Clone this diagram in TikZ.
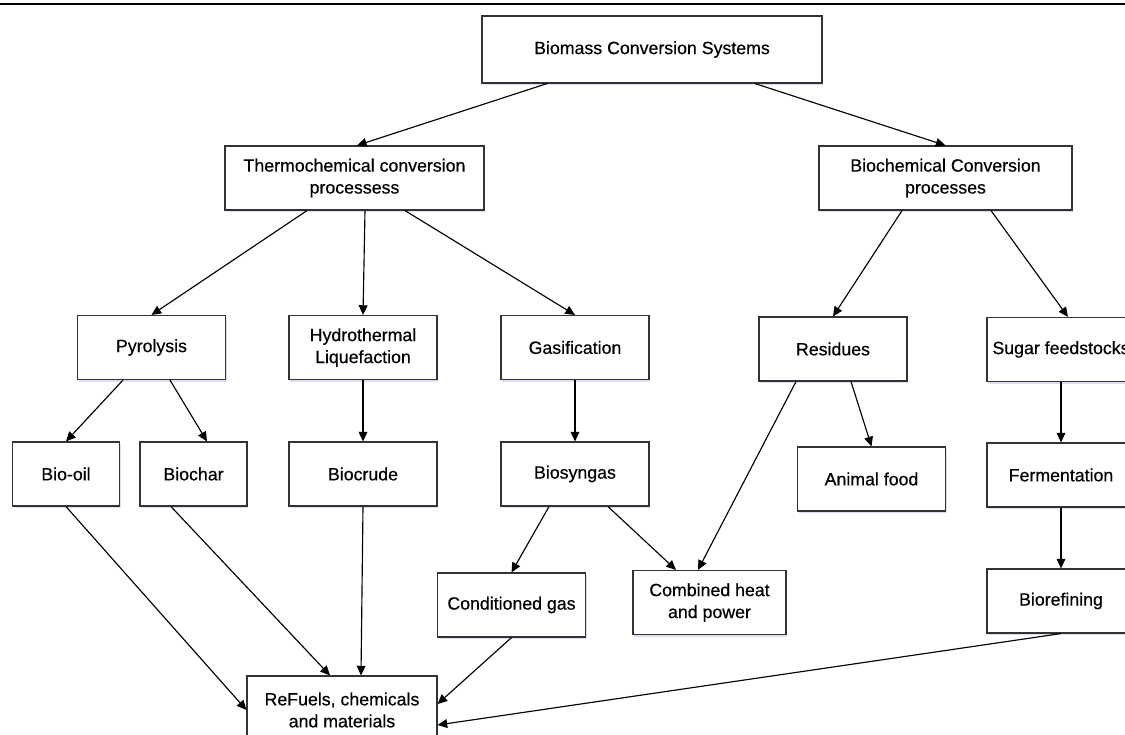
\documentclass[tikz,border=0pt]{standalone}
\usepackage{fontspec}
\setmainfont{Liberation Sans}
\newfontfamily\boxfont[FakeBold=0.45]{Liberation Sans}
\usepackage{tikz}
\usetikzlibrary{arrows.meta,positioning,shadows}
\tikzset{
    box/.style={
        draw=black!80,
        line width=0.65pt,
        fill=white,
        align=center,
        inner sep=2pt,
        minimum height=1.28cm,
        minimum width=2.96cm,
        font=\boxfont\fontsize{10.1}{12.5}\selectfont,
        drop shadow={shadow xshift=0.6pt, shadow yshift=-1.2pt,
            fill=blue!50!gray, opacity=0.18}
    },
    smallbox/.style={box, minimum width=2.14cm},
    topbox/.style={box, minimum width=6.8cm, minimum height=1.34cm},
    procbox/.style={box, minimum width=5.12cm},
    flow/.style={-{Triangle[length=5.5pt,width=5pt]}, line width=0.65pt}
}

\begin{document}
\begin{tikzpicture}[x=0.02cm, y=-0.02cm]
        \useasboundingbox (0,0) rectangle (1125,734);
        \clip (0,0) rectangle (1125,734);
        \draw[line width=0.8pt] (0,4) -- (1125,4);

        % levels 1 and 2
        \node[topbox] (bcs) at (652,49.5) {Biomass Conversion Systems};
        \node[procbox, minimum width=5.18cm] (tcp) at (354.5,178) {Thermochemical conversion\\processess};
        \node[procbox, minimum width=5.06cm] (bcp) at (945.5,178) {Biochemical Conversion\\processes};

        % level 3
        \node[box] (pyr) at (151.5,347.5) {Pyrolysis};
        \node[box] (htl) at (363,347.5) {Hydrothermal\\Liquefaction};
        \node[box] (gas) at (575,347.5) {Gasification};
        \node[box] (res) at (833,349) {Residues};
        \node[box] (sug) at (1061,349.5) {Sugar feedstocks};

        % level 4
        \node[smallbox] (oil) at (66,474) {Bio-oil};
        \node[smallbox] (chr) at (193.5,474) {Biochar};
        \node[box] (crd) at (363,474) {Biocrude};
        \node[box] (syn) at (575,474) {Biosyngas};
        \node[box] (afd) at (871.5,479) {Animal food};
        \node[box] (fer) at (1061,475) {Fermentation};

        % level 5
        \node[box] (cgs) at (511.5,605) {Conditioned gas};
        \node[box, minimum width=3.06cm] (chp) at (709.5,602.5) {Combined heat\\and power};
        \node[box] (brf) at (1061,601) {Biorefining};
        \node[box, minimum width=3.8cm, minimum height=1.36cm] (rfl) at (342,710) {ReFuels, chemicals\\and materials};

        \draw[flow] ([xshift=-2.1cm]bcs.south) -- ([xshift=0.05cm]tcp.north);
        \draw[flow] ([xshift=2.06cm]bcs.south) -- (bcp.north);
        \draw[flow] ([xshift=-0.95cm]tcp.south) -- (pyr.north);
        \draw[flow] ([xshift=0.21cm]tcp.south) -- (htl.north);
        \draw[flow] ([xshift=1.01cm]tcp.south) -- (gas.north);
        \draw[flow] ([xshift=-0.87cm]bcp.south) -- (res.north);
        \draw[flow] ([xshift=0.91cm]bcp.south) -- ([xshift=0.14cm]sug.north);
        \draw[flow] ([xshift=-0.57cm]pyr.south) -- (oil.north);
        \draw[flow] ([xshift=0.37cm]pyr.south) -- ([xshift=0.27cm]chr.north);
        \draw[flow] (htl) -- (crd);
        \draw[flow] (gas) -- (syn);
        \draw[flow] ([xshift=0.36cm]res.south) -- (afd.north);
        \draw[flow] ([xshift=-0.74cm]res.south) -- ([xshift=-0.23cm]chp.north);
        \draw[flow] (sug) -- (fer);
        \draw[flow] (fer) -- (brf);
        \draw[flow] ([xshift=-0.52cm]syn.south) -- (cgs.north);
        \draw[flow] ([xshift=0.66cm]syn.south) -- ([xshift=-0.67cm]chp.north);
        \draw[flow] (oil.south) -- (rfl.west);
        \draw[flow] ([xshift=-0.45cm]chr.south) -- ([xshift=-0.24cm]rfl.north);
        \draw[flow] (crd.south) -- ([xshift=0.38cm]rfl.north);
        \draw[flow] (cgs.south) -- ([yshift=0.12cm]rfl.east);
        \draw[flow] (brf.south) -- ([yshift=-0.3cm]rfl.east);
    \end{tikzpicture}
\end{document}
